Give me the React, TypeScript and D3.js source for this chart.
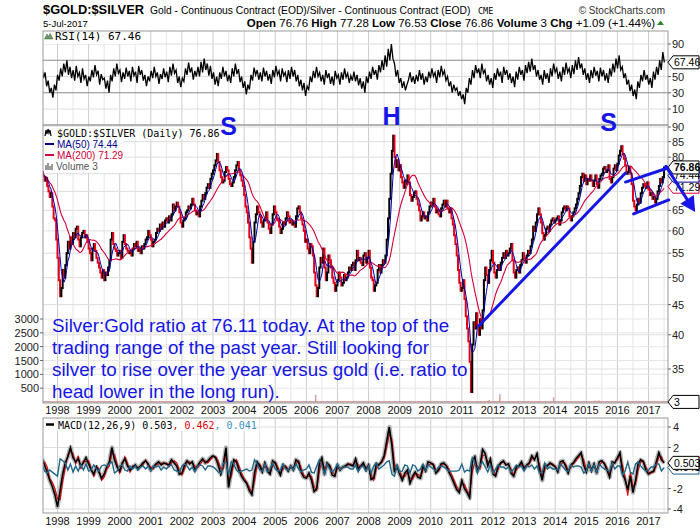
import React from 'react';
import * as d3 from 'd3';

const W = 700;
const PL = 43, PR = 668;
const RSI_T = 31, RSI_B = 125;
const MAIN_T = 125, MAIN_B = 403;
const MACD_T = 418, MACD_B = 513;
const FONT = "'Liberation Sans', Arial, sans-serif";
const MONO = "'DejaVu Sans Mono', monospace";
const BLUE = '#1515e8';

const START = 1997.5;
// semi-monthly closes of $GOLD:$SILVER, Jul 1997 .. Jul 2017
const ratioClose = [
  75.5,74.2,73.0,73.8,71.5,70.0,68.5,69.5,66.0,63.0,62.5,58.0,54.0,49.5,46.5,48.0,51.5,50.0,52.5,55.0,57.5,56.0,58.5,57.0,
  59.5,58.5,60.5,61.0,58.0,56.5,58.5,59.5,60.0,58.5,59.0,57.5,56.0,55.0,53.5,56.0,57.0,55.5,54.0,53.0,52.0,51.0,50.0,51.5,
  49.5,51.0,50.5,52.0,53.5,58.0,59.5,57.0,56.0,55.5,54.5,55.0,55.5,54.0,57.5,59.0,57.0,56.0,55.5,55.0,55.5,54.5,56.0,57.0,
  56.5,57.5,55.5,56.0,55.0,56.5,56.0,57.0,58.0,58.5,60.0,59.0,58.0,56.5,57.5,58.0,59.5,60.5,60.0,61.5,60.5,62.0,61.0,62.5,
  63.0,62.0,63.5,62.5,64.0,66.5,65.0,66.0,67.0,66.0,64.5,62.0,61.0,62.5,63.0,64.5,65.0,66.0,65.5,66.5,68.0,66.5,65.0,64.0,
  64.5,63.5,66.0,67.5,69.0,68.0,69.5,71.0,72.0,71.0,73.5,75.0,76.0,77.5,79.0,81.0,78.5,76.0,74.0,72.5,73.0,75.5,77.0,76.0,
  73.5,72.0,71.5,72.5,74.0,76.0,77.5,78.5,76.0,74.5,73.0,71.5,69.0,66.0,64.5,62.0,58.5,56.0,53.0,57.5,62.0,64.0,66.0,64.5,
  63.5,62.0,61.0,62.5,63.0,64.5,62.0,60.5,59.5,61.5,64.0,66.0,64.5,63.0,62.5,61.0,59.5,60.5,62.0,61.5,63.0,64.5,63.5,62.0,
  62.5,61.5,62.0,61.0,63.5,65.5,66.0,64.5,63.0,61.5,60.0,57.5,58.0,56.0,55.0,57.0,56.5,54.5,51.0,48.5,46.5,48.0,52.0,54.0,
  53.0,56.0,52.0,49.5,51.0,54.5,53.5,52.0,50.0,49.0,47.5,48.5,49.5,51.0,50.0,48.5,49.0,50.5,49.5,50.0,51.0,52.0,51.5,52.5,
  53.0,51.5,53.5,55.5,53.5,54.0,53.0,52.5,54.5,55.0,53.0,54.0,55.5,52.0,50.0,49.5,47.5,48.5,49.0,51.5,52.5,51.0,52.5,53.5,
  53.0,54.5,58.0,63.0,68.0,75.0,82.0,87.0,80.0,77.0,79.0,76.0,77.5,74.0,72.5,71.0,73.0,72.0,74.5,72.5,69.0,67.5,68.5,69.5,
  70.0,68.0,66.5,65.0,62.5,63.5,64.5,63.0,63.5,62.5,64.5,66.0,67.0,66.5,68.0,66.0,64.5,65.0,64.0,63.5,65.5,66.5,67.5,66.0,
  67.5,65.5,64.5,65.5,63.0,61.5,59.0,57.0,54.5,51.5,49.0,47.5,48.0,49.5,46.0,43.0,41.0,39.0,36.0,32.0,38.5,42.0,41.0,43.5,
  41.5,40.0,42.5,41.0,44.0,49.5,52.0,50.5,49.0,51.5,53.5,55.5,53.0,51.0,50.0,51.5,52.5,51.5,53.0,54.0,55.0,54.0,55.5,54.5,
  55.0,56.0,57.0,53.5,51.0,50.0,51.5,52.0,51.0,52.5,53.5,55.0,54.0,53.0,54.5,55.5,55.0,56.5,58.0,61.0,60.0,62.0,64.0,65.5,
  64.0,62.0,59.5,58.0,59.0,60.5,61.0,60.0,61.5,62.5,63.0,62.0,62.5,63.0,63.5,61.5,62.5,64.5,65.5,66.0,65.0,66.0,65.5,63.5,
  62.5,63.5,64.5,65.5,66.5,68.0,69.5,71.5,74.0,75.0,73.0,74.5,72.0,73.5,73.0,74.5,73.0,71.5,73.0,74.5,72.0,71.0,73.5,74.5,
  75.0,76.5,77.0,75.5,76.0,77.5,73.5,72.5,74.0,76.5,77.5,76.0,78.0,80.5,82.0,83.5,81.0,79.5,77.5,75.0,75.5,77.0,75.0,72.0,
  67.5,66.0,65.0,66.5,68.0,67.0,69.5,71.0,72.0,71.5,71.0,72.5,70.5,69.0,69.5,68.0,68.5,67.0,68.0,70.0,71.5,73.5,72.5,74.0,
  76.86,
];

// RSI(14), ~20 readings per year
const rsiValues = [
  62,48,55,38,45,30,36,24,40,33,52,45,60,50,66,55,70,52,62,48,
  58,45,63,50,55,42,60,47,52,38,50,44,58,49,64,52,57,40,53,46,
  48,35,45,30,52,44,60,50,66,54,58,43,55,47,61,50,57,44,62,51,
  56,42,63,52,58,45,52,38,50,44,57,48,62,50,55,41,53,47,60,49,
  56,43,62,51,66,54,58,42,50,37,48,44,60,52,67,55,61,46,57,50,
  62,50,68,55,72,58,66,51,63,47,55,40,50,38,55,47,62,50,57,44,
  52,42,60,50,66,53,59,43,50,36,44,28,40,34,52,45,61,52,58,46,
  55,44,61,50,57,45,53,41,58,49,63,52,57,44,60,51,55,43,58,47,
  62,50,58,44,52,38,46,33,42,26,38,34,50,43,57,48,62,50,55,44,
  52,40,58,48,54,41,50,39,57,48,52,40,55,46,60,49,54,42,51,45,
  56,44,52,39,48,35,44,30,50,42,56,47,62,52,58,46,64,55,70,58,
  76,62,84,70,90,72,66,50,58,42,48,36,44,33,40,46,55,43,50,41,
  52,44,58,46,54,40,50,43,56,48,60,50,55,42,58,49,63,52,57,45,
  50,38,44,30,40,33,36,26,32,22,28,16,36,30,48,40,58,48,64,54,
  60,48,66,54,58,44,52,40,48,36,54,46,60,50,56,42,62,52,58,46,
  54,42,50,37,56,46,62,52,58,45,64,54,68,56,72,58,64,50,58,46,
  52,40,58,47,54,42,60,50,66,55,60,47,56,44,62,52,67,55,60,48,
  64,53,70,58,74,60,66,52,60,46,54,42,58,48,62,51,57,44,61,50,
  58,45,54,42,60,50,66,55,72,60,76,58,62,48,54,40,46,32,40,26,
  34,22,44,36,52,44,58,46,52,40,48,36,56,46,62,52,70,58,80,67.46,
];

// MACD(12,26,9), monthly readings
const macdValues = [
  0.9,0.3,-0.4,-1.2,-1.8,-2.6,-3.8,-2.2,-0.6,0.5,1.1,2.0,
  1.0,0.6,0.9,0.2,0.5,1.0,0.4,-0.2,-0.6,0.1,-0.4,-1.0,
  -0.6,0.1,0.6,2.0,0.8,0.1,-0.3,0.5,0.9,0.2,-0.2,0.1,
  0.3,-0.1,0.2,0.5,0.7,0.4,-0.2,0.1,0.4,0.6,0.3,0.5,
  0.4,0.3,0.8,0.5,0.2,-0.6,-0.5,0.3,0.7,0.4,0.6,-0.2,
  0.2,0.6,0.9,0.5,0.7,1.0,1.2,1.0,0.3,-0.6,0.4,2.0,
  -1.9,-0.3,0.8,0.6,-0.2,-0.8,-1.2,-1.5,-2.2,-2.6,-0.5,0.6,
  0.2,-0.4,0.5,-0.3,-0.6,0.7,0.5,-0.2,-0.7,0.3,0.1,-0.3,
  0.2,-0.2,0.8,0.6,-0.4,-0.9,-1.0,-0.5,-1.2,-2.3,-2.0,0.4,
  1.0,-0.6,0.5,0.2,-0.7,-0.8,0.3,-0.2,0.1,0.2,0.4,0.3,
  0.2,0.9,-0.1,0.2,0.5,-0.2,0.3,-1.1,-1.0,0.4,0.3,0.6,
  1.2,2.6,4.0,2.2,-0.4,0.2,-0.6,-1.2,-0.5,-0.2,-1.5,-0.8,
  -0.4,-0.9,-1.0,0.2,-0.3,0.6,0.5,0.3,-0.5,-0.2,0.4,0.5,
  0.2,-0.4,-0.9,-1.5,-2.1,-2.4,-1.2,-2.0,-2.4,-2.9,0.6,1.1,
  -0.3,0.2,1.8,1.4,0.2,0.9,-0.6,-0.8,0.2,0.5,0.7,0.3,
  0.4,-0.5,-0.8,0.1,0.2,0.6,-0.1,0.3,0.5,1.2,0.8,1.4,
  -0.2,-1.2,0.3,0.2,0.5,0.3,0.1,-0.4,0.6,0.7,0.2,-0.5,
  0.3,0.5,0.9,1.2,1.5,0.3,-0.4,0.5,-0.3,0.4,-0.5,0.6,
  0.7,0.4,-0.2,-0.9,0.6,0.5,1.0,1.5,-0.5,-1.2,-2.1,-0.8,
  -2.4,-1.2,0.4,0.8,0.6,-0.2,-0.6,-0.4,-0.3,0.6,1.5,0.8,
  0.503,
];
// MACD histogram (MACD minus signal), monthly
const histValues = [
  0.4,-0.3,-0.5,-0.2,-0.4,-0.6,-0.8,0.9,0.7,0.5,-0.2,0.4,
  -0.4,0.2,-0.3,0.3,-0.2,0.4,-0.3,-0.2,0.3,-0.1,-0.3,0.2,
  0.3,0.2,0.4,0.6,-0.5,-0.3,0.2,0.3,-0.2,-0.3,0.2,-0.1,
  0.2,-0.2,0.1,0.2,-0.1,0.2,-0.3,0.2,0.1,0.2,-0.2,0.1,
  -0.1,0.2,0.3,-0.2,-0.3,-0.4,0.2,0.4,0.2,-0.2,0.1,-0.4,
  0.2,0.3,0.2,-0.2,0.2,0.2,0.1,-0.1,-0.4,-0.5,0.5,0.6,
  -0.7,0.6,0.4,-0.2,-0.4,-0.3,-0.2,-0.1,-0.3,-0.2,0.8,0.4,
  -0.2,-0.3,0.4,-0.4,-0.1,0.5,-0.1,-0.3,-0.2,0.4,-0.1,-0.2,
  0.2,-0.2,0.4,-0.1,-0.4,-0.2,-0.1,0.3,-0.4,-0.5,0.2,0.8,
  0.2,-0.6,0.4,-0.1,-0.4,-0.1,0.4,-0.2,0.1,0.1,0.1,-0.1,
  -0.1,0.3,-0.4,0.1,0.2,-0.3,0.2,-0.5,0.2,0.5,-0.1,0.1,
  0.3,0.6,0.7,-0.6,-0.8,0.3,-0.4,-0.3,0.3,0.2,-0.5,0.3,
  0.2,-0.3,-0.1,0.4,-0.2,0.3,0.1,-0.1,-0.3,0.1,0.2,0.1,
  -0.1,-0.3,-0.3,-0.3,-0.3,-0.2,0.4,-0.4,-0.2,-0.3,1.0,0.5,
  -0.5,0.3,0.6,0.1,-0.4,0.3,-0.5,-0.1,0.3,0.1,0.1,-0.1,
  0.1,-0.4,-0.1,0.3,0.1,0.2,-0.3,0.2,0.1,0.3,-0.1,0.2,
  -0.5,-0.4,0.5,-0.1,0.1,-0.1,-0.1,-0.2,0.4,0.1,-0.2,-0.3,
  0.3,0.1,0.2,0.2,0.1,-0.5,-0.3,0.4,-0.3,0.3,-0.4,0.4,
  0.1,-0.1,-0.2,-0.3,0.5,-0.1,0.2,0.2,-0.7,-0.3,0.6,-0.4,
  -0.6,0.4,0.6,0.2,-0.1,-0.3,-0.2,0.1,0.1,0.4,0.4,-0.3,
  0.041,
];

const volumeDates = [2006.30, 2011.88, 2012.22, 2013.95, 2015.28, 2015.40];
const volumeValues = [260, 70, 280, 170, 50, 60];

const yearLabels = d3.range(1998, 2018);
const priceTicks = [35, 40, 45, 50, 55, 60, 65, 70, 75, 80, 85, 90];
const volumeTicks = [500, 1000, 1500, 2000, 2500, 3000];
const rsiTicks = [10, 30, 50, 70, 90];
const macdTicks = [-4, -2, 0, 2, 4];

// annotation geometry in data space (year, ratio)
const trendLine = [[2011.54, 41.4], [2016.26, 75.2]];
const channelTop = [[2016.26, 72.6], [2017.62, 76.7]];
const channelBottom = [[2016.52, 64.1], [2017.65, 67.7]];
const arrowLine = [[2017.56, 77.2], [2018.5, 64.6]];
const shoulderMarks = [
  { label: 'S', t: 2003.5, v: 90.3 },
  { label: 'H', t: 2008.74, v: 93.9 },
  { label: 'S', t: 2015.72, v: 91.8 },
];
const noteLines = [
  'Silver:Gold ratio at 76.11 today. At the top of the',
  'trading range of the past year. Still looking for',
  'silver to rise over the year versus gold (i.e. ratio to',
  'head lower in the long run).',
];

const lastClose = 76.86, lastMa50 = 74.44, lastMa200 = 71.29, lastVol = 3;
const lastRsi = 67.46, lastMacd = 0.503, lastSignal = 0.462, lastHist = 0.041;

function LabelBox({ y, text, stroke, color = '#000', bold = false }: any) {
  return (
    <g>
      <path d={`M${PR},${y} L${PR + 5},${y - 6.5} H699 V${y + 6.5} H${PR + 5} Z`} fill="#fff" stroke={stroke} strokeWidth={1} />
      <text x={PR + 6} y={y + 3.8} fontSize={10.5} fontFamily={FONT} fontWeight={bold ? 'bold' : 'normal'} fill={color}>{text}</text>
    </g>
  );
}

export default function App() {
  const x = d3.scaleLinear().domain([1998, 2017]).range([57.5, 648.5]);
  const yP = d3.scaleLog().domain([35, 90]).range([369, 127]);
  const yR = d3.scaleLinear().domain([10, 90]).range([109, 44]);
  const yM = d3.scaleLinear().domain([-4, 4]).range([509, 427]);
  const yV = d3.scaleLinear().domain([0, 3000]).range([402, 319]);

  const closes = ratioClose.map((v, i) => ({ t: START + i / 24, v }));
  const movingAvg = (n: number) => closes.map((d, i) => ({ t: d.t, v: d3.mean(ratioClose.slice(Math.max(0, i - n + 1), i + 1)) as number }));
  const ma50 = movingAvg(5);
  const ma200 = movingAvg(19);
  const rsi = rsiValues.map((v, i) => ({ t: START + i * (20.01 / (rsiValues.length - 1)), v }));
  const macd = macdValues.map((v, i) => ({ t: START + i / 12, v }));
  const signal = macdValues.map((v, i) => ({ t: START + i / 12, v: v - histValues[i] }));
  const hist = histValues.map((v, i) => ({ t: START + i / 12, v }));

  const lineP = d3.line<any>().x(d => x(d.t)).y(d => yP(d.v));
  const lineR = d3.line<any>().x(d => x(d.t)).y(d => yR(d.v));
  const lineM = d3.line<any>().x(d => x(d.t)).y(d => yM(d.v));

  const halfYears = d3.range(1997.5, 2018, 0.5).filter(t => x(t) > PL && x(t) < PR);

  const vGrid = (top: number, bottom: number) => halfYears.map((t, i) => (
    <line key={i} x1={x(t)} x2={x(t)} y1={top} y2={bottom} stroke={Number.isInteger(t) ? '#cdcdcd' : '#e6e6e6'} strokeWidth={1} />
  ));

  const seg = (pts: number[][]) => ({ x1: x(pts[0][0]), y1: yP(pts[0][1]), x2: x(pts[1][0]), y2: yP(pts[1][1]) });
  const arrow = seg(arrowLine);
  const ang = Math.atan2(arrow.y2 - arrow.y1, arrow.x2 - arrow.x1);
  const headLen = 15, headW = 8;
  const bx = arrow.x2 - headLen * Math.cos(ang), by = arrow.y2 - headLen * Math.sin(ang);
  const head = `M${arrow.x2},${arrow.y2} L${bx + headW * Math.sin(ang)},${by - headW * Math.cos(ang)} L${bx - headW * Math.sin(ang)},${by + headW * Math.cos(ang)} Z`;

  return (
    <svg width={W} height={530} style={{ position: 'absolute', left: 0, top: 0, background: '#fff' }}>
      <defs>
        <clipPath id="rsiClip"><rect x={PL} y={RSI_T} width={PR - PL} height={RSI_B - RSI_T} /></clipPath>
        <clipPath id="mainClip"><rect x={PL} y={MAIN_T} width={PR - PL} height={MAIN_B - MAIN_T} /></clipPath>
        <clipPath id="macdClip"><rect x={PL} y={MACD_T} width={PR - PL} height={MACD_B - MACD_T} /></clipPath>
      </defs>
      <rect x={0} y={0} width={W} height={530} fill="#fff" />

      {/* header */}
      <text x={43} y={14} fontFamily={FONT} fontSize={13} fontWeight="bold" textLength={101} lengthAdjust="spacingAndGlyphs">$GOLD:$SILVER</text>
      <text x={150} y={13.5} fontFamily={FONT} fontSize={10.3}>Gold - Continuous Contract (EOD)/Silver - Continuous Contract (EOD)</text>
      <text x={478} y={13.5} fontFamily={MONO} fontSize={8.5}>CME</text>
      <text x={665} y={13.5} fontFamily={FONT} fontSize={10} textAnchor="end" fill="#333">© StockCharts.com</text>
      <text x={43} y={26.5} fontFamily={FONT} fontSize={9.5}>5-Jul-2017</text>
      <text x={655} y={26.5} fontFamily={FONT} fontSize={11.5} textAnchor="end">
        <tspan fontWeight="bold">Open</tspan> 76.76 <tspan fontWeight="bold">High</tspan> 77.28 <tspan fontWeight="bold">Low</tspan> 76.53 <tspan fontWeight="bold">Close</tspan> 76.86 <tspan fontWeight="bold">Volume</tspan> 3 <tspan fontWeight="bold">Chg</tspan> +1.09 (+1.44%)
      </text>
      <path d="M657,25 L660.5,20.5 L664,25 Z" fill="#2a8a2a" />

      {/* RSI panel */}
      <g>
        {vGrid(RSI_T, RSI_B)}
        {rsiTicks.map(v => (
          <line key={v} x1={PL} x2={PR} y1={yR(v)} y2={yR(v)} stroke={v === 30 || v === 70 ? '#8a8a8a' : '#dedede'} strokeWidth={1} />
        ))}
        <path d={lineR(rsi) as string} fill="none" stroke="#000" strokeWidth={1.3} clipPath="url(#rsiClip)" />
        <rect x={PL + 1} y={RSI_T + 1} width={96} height={12} fill="#fff" />
        <path d="M44.5,39 L47,34 L48.5,36.5 L50,33.5 L53,39 Z" fill="#6a9a5a" stroke="#365" strokeWidth={0.5} />
        <text x={55} y={40} fontFamily={MONO} fontSize={11}>RSI(14) {lastRsi}</text>
        <rect x={PL} y={RSI_T} width={PR - PL} height={RSI_B - RSI_T} fill="none" stroke="#999" />
        {rsiTicks.filter(v => v !== 70).map(v => (
          <g key={v}>
            <line x1={PR} x2={PR + 3} y1={yR(v)} y2={yR(v)} stroke="#666" />
            <text x={PR + 4} y={yR(v) + 4} fontFamily={FONT} fontSize={11} fill="#222">{v}</text>
          </g>
        ))}
        <LabelBox y={yR(lastRsi)} text={lastRsi.toFixed(2)} stroke="#000" />
      </g>

      {/* main panel */}
      <g>
        {vGrid(MAIN_T, MAIN_B)}
        {priceTicks.map(v => (
          <line key={v} x1={PL} x2={PR} y1={yP(v)} y2={yP(v)} stroke="#dedede" />
        ))}
        {volumeTicks.map(v => (
          <line key={'v' + v} x1={PL} x2={PR} y1={yV(v)} y2={yV(v)} stroke="#e6e6e6" />
        ))}
        <g clipPath="url(#mainClip)">
          {volumeDates.map((t, i) => (
            <rect key={i} x={x(t) - 0.8} width={1.6} y={yV(volumeValues[i])} height={yV(0) - yV(volumeValues[i])} fill="#d9a3a3" />
          ))}
          <line x1={PL} x2={PR} y1={yV(lastVol)} y2={yV(lastVol)} stroke="#c48a8a" strokeWidth={1.2} />
          {closes.slice(1).map((d, i) => {
            const p = closes[i];
            const up = d.v >= p.v;
            return <line key={i} x1={x(d.t)} x2={x(d.t)} y1={yP(p.v)} y2={yP(d.v)} stroke={up ? '#000' : '#e0001a'} strokeWidth={2} strokeLinecap="square" />;
          })}
          <path d={lineP(ma200) as string} fill="none" stroke="#d4003a" strokeWidth={1.1} />
          <path d={lineP(ma50) as string} fill="none" stroke="#0000b0" strokeWidth={1} />
        </g>
        {/* legend */}
        <rect x={PL + 1} y={MAIN_T + 2} width={180} height={12} fill="#fff" />
        <rect x={PL + 1} y={MAIN_T + 14} width={80} height={34} fill="#fff" />
        <path d="M45,136 L46,130 L47,134 L48,129 L49,133 L50,130 L51,136" fill="none" stroke="#000" strokeWidth={1.2} />
        <text x={57} y={136.5} fontFamily={MONO} fontSize={10}>$GOLD:$SILVER (Daily) {lastClose}</text>
        <line x1={45} x2={54} y1={144} y2={144} stroke="#00008b" strokeWidth={2} />
        <text x={57} y={147.5} fontFamily={FONT} fontSize={10} fill="#00008b">MA(50) {lastMa50}</text>
        <line x1={45} x2={54} y1={155} y2={155} stroke="#d4003a" strokeWidth={2} />
        <text x={57} y={158.5} fontFamily={FONT} fontSize={10} fill="#d4003a">MA(200) {lastMa200}</text>
        <path d="M46,170 V165 M48,170 V163 M50,170 V166 M52,170 V164" stroke="#777" strokeWidth={1.5} />
        <text x={56} y={169.5} fontFamily={FONT} fontSize={10} fill="#555">Volume {lastVol}</text>

        <rect x={PL} y={MAIN_T} width={PR - PL} height={MAIN_B - MAIN_T} fill="none" stroke="#999" />
        {priceTicks.filter(v => v !== 70 && v !== 75).map(v => (
          <g key={v}>
            <line x1={PR} x2={PR + 3} y1={yP(v)} y2={yP(v)} stroke="#666" />
            <text x={PR + 4} y={yP(v) + 4} fontFamily={FONT} fontSize={11} fill="#222">{v}</text>
          </g>
        ))}
        {volumeTicks.map(v => (
          <g key={v}>
            <line x1={PL - 3} x2={PL} y1={yV(v)} y2={yV(v)} stroke="#666" />
            <text x={PL - 4} y={yV(v) + 4} fontFamily={FONT} fontSize={11} fill="#222" textAnchor="end">{v}</text>
          </g>
        ))}
        <LabelBox y={yP(lastMa200)} text={lastMa200.toFixed(2)} stroke="#d4003a" />
        <LabelBox y={yP(lastMa50)} text={lastMa50.toFixed(2)} stroke="#00008b" />
        <LabelBox y={yP(lastClose)} text={lastClose.toFixed(2)} stroke="#000" bold />
        <LabelBox y={yV(lastVol)} text={String(lastVol)} stroke="#000" />
      </g>

      {/* annotations */}
      <g>
        {[trendLine, channelTop, channelBottom].map((pts, i) => {
          const s = seg(pts);
          return <line key={i} {...s} stroke={BLUE} strokeWidth={3} strokeLinecap="round" />;
        })}
        <line x1={arrow.x1} y1={arrow.y1} x2={bx} y2={by} stroke={BLUE} strokeWidth={3} strokeLinecap="round" />
        <path d={head} fill={BLUE} />
        {shoulderMarks.map((m, i) => (
          <text key={i} x={x(m.t)} y={yP(m.v)} dy="0.36em" textAnchor="middle" fontFamily={FONT} fontWeight="bold" fontSize={25} fill={BLUE}>{m.label}</text>
        ))}
        {noteLines.map((s, i) => (
          <text key={i} x={52} y={331.5 + i * 22} fontFamily={FONT} fontSize={18.8} fill={BLUE}>{s}</text>
        ))}
      </g>

      {/* x axis labels (main) */}
      {yearLabels.map(yr => (
        <text key={yr} x={x(yr)} y={414} textAnchor="middle" fontFamily={FONT} fontSize={11} fill="#111">{yr}</text>
      ))}

      {/* MACD panel */}
      <g>
        {vGrid(MACD_T, MACD_B)}
        {macdTicks.map(v => (
          <line key={v} x1={PL} x2={PR} y1={yM(v)} y2={yM(v)} stroke="#dedede" />
        ))}
        <g clipPath="url(#macdClip)">
          <path d={lineM(macd) as string} fill="none" stroke="#b5b5b5" strokeWidth={4.5} strokeLinejoin="round" />
          <path d={lineM(signal) as string} fill="none" stroke="#e00000" strokeWidth={1.1} />
          <path d={lineM(macd) as string} fill="none" stroke="#000" strokeWidth={1.6} />
          <path d={lineM(hist) as string} fill="none" stroke="#1f6688" strokeWidth={1.4} />
        </g>
        <rect x={PL + 1} y={MACD_T + 1} width={210} height={12} fill="#fff" />
        <line x1={46} x2={54} y1={424.5} y2={424.5} stroke="#000" strokeWidth={2.5} />
        <text x={58} y={428.5} fontFamily={MONO} fontSize={10}>
          MACD(12,26,9) {lastMacd}<tspan fill="#e00000">, {lastSignal}</tspan><tspan fill="#3a8fc0">, {lastHist}</tspan>
        </text>
        <rect x={PL} y={MACD_T} width={PR - PL} height={MACD_B - MACD_T} fill="none" stroke="#999" />
        {macdTicks.filter(v => v !== 0).map(v => (
          <g key={v}>
            <line x1={PR} x2={PR + 3} y1={yM(v)} y2={yM(v)} stroke="#666" />
            <text x={PR + 5} y={yM(v) + 4} fontFamily={FONT} fontSize={11} fill="#222">{v}</text>
          </g>
        ))}
        <LabelBox y={yM(lastSignal)} text={lastSignal.toFixed(3)} stroke="#e00000" />
        <LabelBox y={yM(lastHist)} text={lastHist.toFixed(3)} stroke="#1f5f8b" />
        <LabelBox y={yM(lastMacd)} text={lastMacd.toFixed(3)} stroke="#000" />
      </g>
      {yearLabels.map(yr => (
        <text key={'b' + yr} x={x(yr)} y={525} textAnchor="middle" fontFamily={FONT} fontSize={11} fill="#111">{yr}</text>
      ))}
    </svg>
  );
}
